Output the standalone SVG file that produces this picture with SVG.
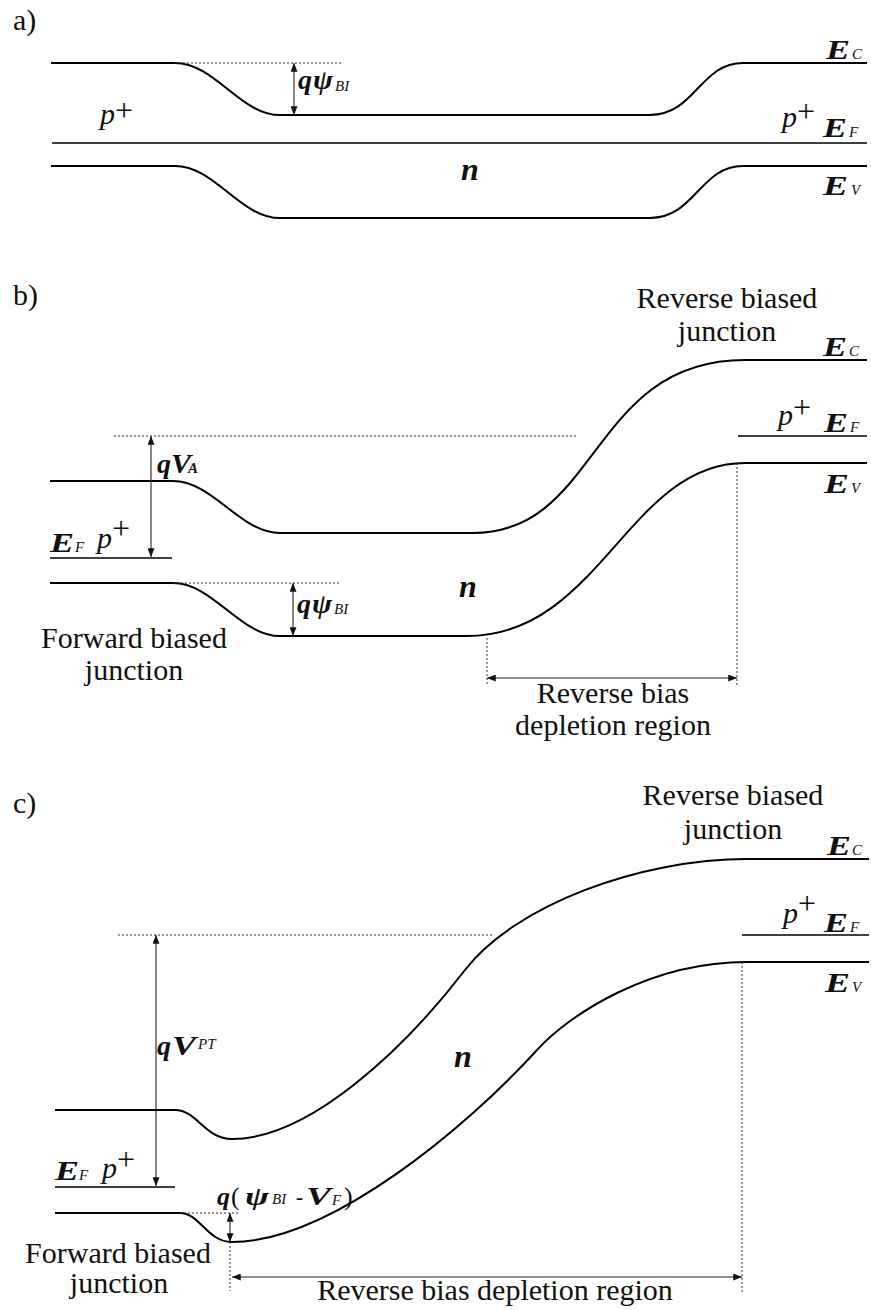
<svg xmlns="http://www.w3.org/2000/svg" width="871" height="1310" viewBox="0 0 871 1310">
<style>
.band{fill:none;stroke:#000;stroke-width:2}
.ef{fill:none;stroke:#000;stroke-width:1.4}
.dot{fill:none;stroke:#333;stroke-width:1;stroke-dasharray:2 2}
.arr{fill:none;stroke:#222;stroke-width:1.1;marker-start:url(#ah);marker-end:url(#ah)}
text{font-family:"Liberation Serif","Times New Roman",serif;fill:#111}
.lbl{font-size:30px}
.it{font-style:italic}
.pl{font-size:32px}
.bi{font-weight:bold;font-style:italic}
.E{font-weight:bold;font-style:italic;font-size:27px}
.sub{font-style:italic;font-weight:normal;font-size:15px}
.subb{font-style:italic;font-weight:bold;font-size:15px}
</style>
<defs>
<marker id="ah" viewBox="0 0 10 8" refX="10" refY="4" markerWidth="9" markerHeight="7" markerUnits="userSpaceOnUse" orient="auto-start-reverse">
<path d="M0,0 L10,4 L0,8 z" fill="#111"/>
</marker>
</defs>

<!-- Part a -->
<g id="part-a">
<text class="lbl" x="13" y="30">a)</text>
<g id="a-Ec"><path class="band" d="M51,63 H175 C215,63 240,115 280,115 H650 C695,115 700,63 743,63 H867"/>
<text class="E" x="826" y="59" textLength="24" lengthAdjust="spacingAndGlyphs">E</text><text class="sub" x="852" y="59">C</text></g>
<g id="a-Ef"><path class="ef" d="M52,143 H867"/>
<text class="lbl" x="782" y="127"><tspan class="it">p</tspan><tspan class="pl" dy="-5">+</tspan></text>
<text class="E" x="823" y="137" textLength="24" lengthAdjust="spacingAndGlyphs">E</text><text class="sub" x="849" y="137">F</text></g>
<g id="a-Ev"><path class="band" d="M51,166 H175 C215,166 240,218 280,218 H650 C695,218 700,166 743,166 H867"/>
<text class="E" x="823" y="195" textLength="25" lengthAdjust="spacingAndGlyphs">E</text><text class="sub" x="851" y="195">V</text></g>
<g id="a-p"><text class="lbl" x="100" y="124"><tspan class="it">p</tspan><tspan class="pl" dy="-3">+</tspan></text></g>
<g id="a-n"><text class="bi" font-size="32" x="461" y="180">n</text></g>
<g id="a-psi"><text class="bi" font-size="28" x="298" y="89">q</text><text class="bi" font-size="28" x="313" y="89" textLength="20" lengthAdjust="spacingAndGlyphs">ψ</text><text class="sub" x="335" y="91">BI</text></g>
</g>

<!-- Part b -->
<g id="part-b">
<text class="lbl" x="13" y="305">b)</text>
<g id="b-rev"><text class="lbl" text-anchor="middle" x="727" y="308">Reverse biased</text><text class="lbl" text-anchor="middle" x="727" y="341">junction</text></g>
<g id="b-Ec"><path class="band" d="M50,481 H173 C213,481 240,533 280,533 H473 C600,533 590,360 745,360 H867"/>
<text class="E" x="823" y="356" textLength="24" lengthAdjust="spacingAndGlyphs">E</text><text class="sub" x="849" y="356">C</text></g>
<g id="b-EfR"><path class="ef" d="M738,436 H867"/>
<text class="lbl" x="778" y="425"><tspan class="it">p</tspan><tspan class="pl" dy="-7">+</tspan></text>
<text class="E" x="824" y="432" textLength="24" lengthAdjust="spacingAndGlyphs">E</text><text class="sub" x="850" y="432">F</text></g>
<g id="b-Ev"><path class="band" d="M50,583 H173 C213,583 240,636 280,636 H467 C600,636 628,463 745,463 H867"/>
<text class="E" x="824" y="493" textLength="25" lengthAdjust="spacingAndGlyphs">E</text><text class="sub" x="851" y="493">V</text></g>
<g id="b-EfL"><path class="ef" d="M50,558 H172"/>
<text class="E" x="50" y="552" textLength="24" lengthAdjust="spacingAndGlyphs">E</text><text class="sub" x="75" y="552">F</text>
<text class="lbl" x="97" y="548"><tspan class="it">p</tspan><tspan class="pl" dy="-9">+</tspan></text></g>
<g id="b-n"><text class="bi" font-size="32" x="459" y="597">n</text></g>
<g id="b-VA"><text class="bi" font-size="28" x="157" y="473">q</text><text class="bi" font-size="28" x="171" y="473" textLength="20" lengthAdjust="spacingAndGlyphs">V</text><text class="subb" x="188" y="473">A</text></g>
<g id="b-psi"><text class="bi" font-size="28" x="297" y="613">q</text><text class="bi" font-size="28" x="312" y="613" textLength="20" lengthAdjust="spacingAndGlyphs">ψ</text><text class="sub" x="334" y="614">BI</text></g>
<g id="b-fwd"><text class="lbl" text-anchor="middle" x="134" y="648">Forward biased</text><text class="lbl" text-anchor="middle" x="134" y="680">junction</text></g>
<g id="b-dep"><text class="lbl" text-anchor="middle" x="613" y="703">Reverse bias</text><text class="lbl" text-anchor="middle" x="613" y="735">depletion region</text></g>
</g>

<!-- Part c -->
<g id="part-c">
<text class="lbl" x="13" y="813">c)</text>
<g id="c-rev"><text class="lbl" text-anchor="middle" x="733" y="805">Reverse biased</text><text class="lbl" text-anchor="middle" x="733" y="839">junction</text></g>
<g id="c-Ec"><path class="band" d="M55,1110 H175 C197,1110 205,1139 232,1139 C310,1139 405,1048 465,970 C515,905 640,859 747,859 H869"/>
<text class="E" x="827" y="855" textLength="24" lengthAdjust="spacingAndGlyphs">E</text><text class="sub" x="852" y="855">C</text></g>
<g id="c-EfR"><path class="ef" d="M742,935 H869"/>
<text class="lbl" x="783" y="923"><tspan class="it">p</tspan><tspan class="pl" dy="-9">+</tspan></text>
<text class="E" x="824" y="932" textLength="24" lengthAdjust="spacingAndGlyphs">E</text><text class="sub" x="850" y="932">F</text></g>
<g id="c-Ev"><path class="band" d="M55,1213 H180 C200,1213 207,1242 232,1242 C330,1242 467,1127 537,1050 C570,1014 650,962 747,962 H869"/>
<text class="E" x="825" y="992" textLength="25" lengthAdjust="spacingAndGlyphs">E</text><text class="sub" x="852" y="992">V</text></g>
<g id="c-EfL"><path class="ef" d="M55,1187 H175"/>
<text class="E" x="55" y="1180" textLength="24" lengthAdjust="spacingAndGlyphs">E</text><text class="sub" x="79" y="1180">F</text>
<text class="lbl" x="102" y="1178"><tspan class="it">p</tspan><tspan class="pl" dy="-8">+</tspan></text></g>
<g id="c-n"><text class="bi" font-size="32" x="454" y="1067">n</text></g>
<g id="c-VPT"><text class="bi" font-size="28" x="157" y="1055">q</text><text class="bi" font-size="28" x="172" y="1055" textLength="24" lengthAdjust="spacingAndGlyphs">V</text><text class="sub" x="198" y="1049">PT</text></g>
<g id="c-psi"><text class="bi" font-size="26" x="217" y="1205">q</text><text font-size="26" x="231" y="1205">(</text><text class="bi" font-size="26" x="245" y="1205" textLength="24" lengthAdjust="spacingAndGlyphs">ψ</text><text class="sub" x="272" y="1204">BI</text><text class="bi" font-size="22" x="296" y="1204">-</text><text class="bi" font-size="26" x="306" y="1205" textLength="25" lengthAdjust="spacingAndGlyphs">V</text><text class="sub" x="332" y="1205">F</text><text font-size="26" x="344" y="1205">)</text></g>
<g id="c-fwd"><text class="lbl" text-anchor="middle" x="118" y="1263">Forward biased</text><text class="lbl" text-anchor="middle" x="119" y="1293">junction</text></g>
<g id="c-dep"><text class="lbl" text-anchor="middle" x="495" y="1300">Reverse bias depletion region</text></g>
</g>

<!-- dotted guides and arrows -->
<g id="connectors">
<path class="dot" d="M175,63 H343"/>
<path class="arr" d="M294,63 V115"/>
<path class="dot" d="M114,436 H577"/>
<path class="arr" d="M151,436 V557"/>
<path class="dot" d="M173,583 H340"/>
<path class="arr" d="M293,583 V636"/>
<path class="dot" d="M487,638 V685"/>
<path class="dot" d="M737,463 V685"/>
<path class="arr" d="M487,678 H737"/>
<path class="dot" d="M118,935 H492"/>
<path class="arr" d="M156,935 V1186"/>
<path class="dot" d="M180,1213 H240"/>
<path class="arr" d="M230,1213 V1242"/>
<path class="dot" d="M230,1242 V1291"/>
<path class="dot" d="M742,962 V1293"/>
<path class="arr" d="M232,1277 H742"/>
</g>
</svg>
